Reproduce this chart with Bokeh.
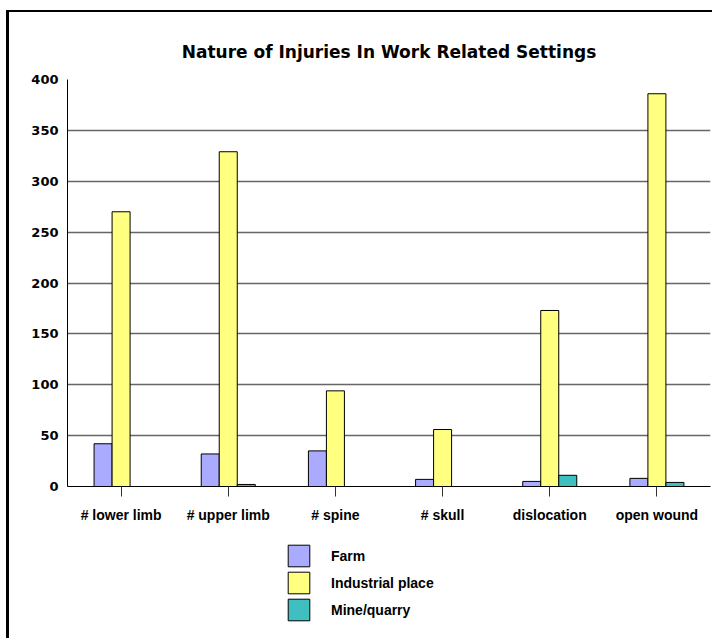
from bokeh.plotting import figure
from bokeh.layouts import column
from bokeh.models import ColumnDataSource, FactorRange, Range1d, SingleIntervalTicker, Legend, LegendItem
from bokeh.transform import dodge
from bokeh.embed import file_html
from bokeh.resources import INLINE

categories = ["# lower limb", "# upper limb", "# spine", "# skull", "dislocation", "open wound"]
farm = [42, 32, 35, 7, 5, 8]
industrial = [270, 329, 94, 56, 173, 386]
mine = [0, 2, 0, 0, 11, 4]
series_names = ["Farm", "Industrial place", "Mine/quarry"]
colors = ["#aaaaff", "#ffff80", "#3fbfbf"]
fields = ["farm", "industrial", "mine"]

src = ColumnDataSource(dict(cat=categories, farm=farm, industrial=industrial, mine=mine))

FONT = "Liberation Sans"
FONT_WIDE = "DejaVu Sans"

p = figure(x_range=FactorRange(*categories), y_range=Range1d(0, 400),
           width=703, height=520, output_backend="svg", toolbar_location=None,
           min_border_left=58, min_border_right=2, min_border_top=67, min_border_bottom=46,
           title="Nature of Injuries In Work Related Settings")

p.title.align = "center"
p.title.text_font = FONT_WIDE
p.title.text_font_style = "bold"
p.title.text_font_size = "17px"
p.title.text_color = "black"
p.title.standoff = 35
p.outline_line_color = None

bw = 0.168
for off, field, col in zip([-bw, 0, bw], fields, colors):
    p.vbar(x=dodge("cat", off, range=p.x_range), top=field, width=bw, source=src,
           fill_color=col, line_color="black", line_width=1)

p.xgrid.grid_line_color = None
p.ygrid.grid_line_color = "#666666"
p.ygrid.grid_line_width = 1.5
p.yaxis.ticker = SingleIntervalTicker(interval=50)
p.yaxis.minor_tick_line_color = None
p.yaxis.major_tick_out = 0
p.yaxis.major_tick_in = 0
p.yaxis.axis_line_color = "black"
p.yaxis.major_label_standoff = 5
p.yaxis.major_label_text_font = FONT_WIDE
p.yaxis.major_label_text_font_size = "13px"

p.xaxis.major_tick_out = 10
p.xaxis.major_tick_in = 0
p.xaxis.major_tick_line_color = "#333333"
p.xaxis.axis_line_color = "black"
p.xaxis.major_label_standoff = 10
p.xaxis.major_label_text_font = FONT
p.xaxis.major_label_text_font_size = "14px"

for ax in (p.xaxis, p.yaxis):
    ax.major_label_text_font_style = "bold"
    ax.major_label_text_color = "black"

# legend panel: same series drawn in an empty value window so only the legend shows
p2 = figure(x_range=FactorRange(*categories), y_range=Range1d(1000, 1001),
            width=703, height=106, output_backend="svg", toolbar_location=None,
            x_axis_type=None, y_axis_type=None,
            min_border_left=0, min_border_right=0, min_border_top=0, min_border_bottom=0)
p2.outline_line_color = None
p2.grid.grid_line_color = None
leg_renderers = []
for off, field, col in zip([-bw, 0, bw], fields, colors):
    r = p2.vbar(x=dodge("cat", off, range=p2.x_range), top=field, width=bw, source=src,
                fill_color=col, line_color="black", line_width=1)
    leg_renderers.append(r)

legend = Legend(items=[LegendItem(label=n, renderers=[r]) for n, r in zip(series_names, leg_renderers)],
                location=(218, 15), orientation="vertical",
                glyph_width=27, glyph_height=27, label_height=27, spacing=0,
                label_standoff=19, padding=0, margin=0,
                border_line_alpha=0, background_fill_alpha=0,
                label_text_font=FONT, label_text_font_style="bold", label_text_font_size="14px",
                label_text_color="black")
p2.add_layout(legend, "center")

layout = column(p, p2, spacing=0)
layout.styles = {"border-top": "2px solid black", "border-left": "3px solid black",
                 "margin-top": "10px", "margin-left": "6px"}

open("out.html", "w").write(file_html(layout, INLINE))
